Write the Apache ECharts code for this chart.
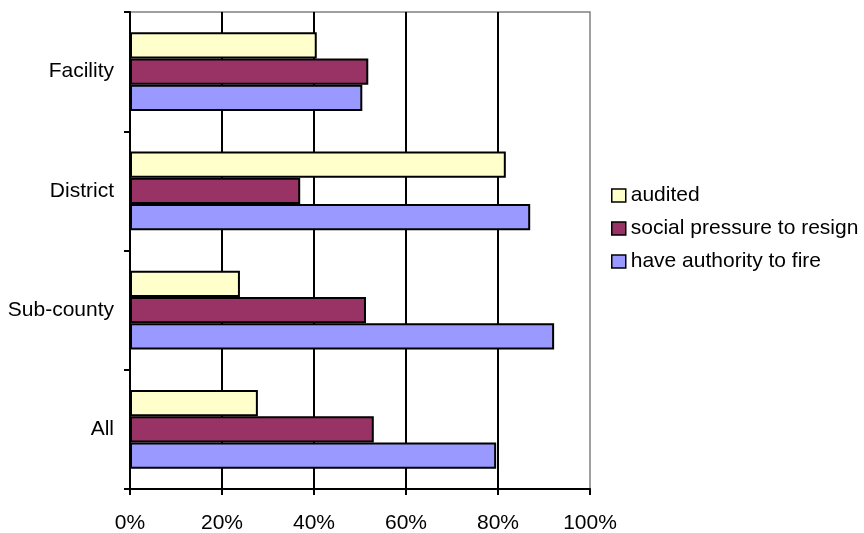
<!DOCTYPE html>
<html>
<head>
<meta charset="utf-8">
<script src="https://cdn.jsdelivr.net/npm/echarts@6/dist/echarts.min.js"></script>
<style>
  html, body { margin: 0; padding: 0; background: #fff; }
  #chart { width: 864px; height: 533px; }
</style>
</head>
<body>
<div id="chart"></div>
<script>
// Levels of government, listed bottom to top
const categories = ['All', 'Sub-county', 'District', 'Facility'];

// Share of respondents (fractions of 1), one array per measure
const authorityToFire = [0.796, 0.922, 0.870, 0.505];
const socialPressure = [0.530, 0.513, 0.370, 0.518];
const audited = [0.278, 0.239, 0.817, 0.406];

// Percentage axis
const xTicks = [0, 0.2, 0.4, 0.6, 0.8, 1.0];

const FONT = "'Liberation Sans', Arial, sans-serif";

const chart = echarts.init(document.getElementById('chart'));

const barStyle = (color) => ({
  color: color,
  borderColor: '#000',
  borderWidth: 2
});

chart.setOption({
  animation: false,
  backgroundColor: '#fff',
  textStyle: { fontFamily: FONT, color: '#000' },
  grid: {
    left: 130, right: 274, top: 12, bottom: 44,
    containLabel: false,
    outerBoundsMode: 'none',
    show: true, borderColor: '#808080', borderWidth: 1.5,
    backgroundColor: 'transparent'
  },
  legend: {
    orient: 'vertical',
    left: 606,
    top: 180,
    itemWidth: 14,
    itemHeight: 13,
    itemGap: 12,
    icon: 'rect',
    data: ['audited', 'social pressure to resign', 'have authority to fire'],
    itemStyle: { borderColor: '#000', borderWidth: 1.5 },
    textStyle: { fontFamily: FONT, fontSize: 21, color: '#000' }
  },
  xAxis: {
    type: 'value',
    min: xTicks[0],
    max: xTicks[xTicks.length - 1],
    interval: 0.2,
    axisLine: { show: true, lineStyle: { color: '#000', width: 2 } },
    axisTick: { show: true, length: 6, lineStyle: { color: '#000', width: 2 } },
    axisLabel: {
      margin: 24,
      fontFamily: FONT, fontSize: 21, color: '#000',
      formatter: (v) => Math.round(v * 100) + '%'
    },
    splitLine: {
      show: true, showMinLine: false, showMaxLine: false,
      lineStyle: { color: '#000', width: 2 }
    }
  },
  yAxis: {
    type: 'category',
    data: categories,
    axisLine: { show: true, lineStyle: { color: '#000', width: 2 } },
    axisTick: { show: true, length: 6, lineStyle: { color: '#000', width: 2 } },
    axisLabel: { margin: 16, fontFamily: FONT, fontSize: 21, color: '#000' },
    splitLine: { show: false }
  },
  // Within each category the first series sits at the top of the band
  series: [
    {
      name: 'audited', type: 'bar', data: audited,
      barGap: '0%', barCategoryGap: '34%', itemStyle: barStyle('#FFFFCC')
    },
    {
      name: 'social pressure to resign', type: 'bar', data: socialPressure,
      barGap: '0%', barCategoryGap: '34%', itemStyle: barStyle('#993366')
    },
    {
      name: 'have authority to fire', type: 'bar', data: authorityToFire,
      barGap: '0%', barCategoryGap: '34%', itemStyle: barStyle('#9999FF')
    }
  ]
});
</script>
</body>
</html>
